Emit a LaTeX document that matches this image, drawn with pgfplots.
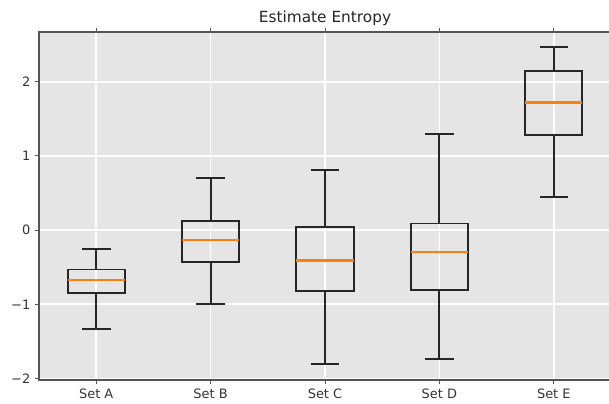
\documentclass[border=0pt]{standalone}
\usepackage{pgfplots}
\pgfplotsset{compat=1.18}
\usepgfplotslibrary{statistics}
\usepackage{fontspec}
\setmainfont{DejaVu Sans}
\definecolor{bg}{HTML}{E5E5E5}
\definecolor{mplorange}{HTML}{FF7F0E}
\definecolor{frame}{HTML}{555555}
\begin{document}
\begin{tikzpicture}
\useasboundingbox (0,0) rectangle (456.75pt,302.25pt);
\begin{axis}[
  anchor=south west, at={(29.25pt,17.25pt)},
  scale only axis, width=429pt, height=261pt,
  xmin=0.5, xmax=5.5, ymin=-2.02, ymax=2.67,
  axis background/.style={fill=bg},
  axis line style={frame, line width=0.8pt},
  xtick={1,2,3,4,5},
  xticklabels={Set A,Set B,Set C,Set D,Set E},
  ytick={-2,-1,0,1,2},
  yticklabels={−2,−1,0,1,2},
  tick align=outside, major tick length=3pt,
  tick style={frame, line width=0.7pt},
  grid=major, major grid style={white, line width=1.3pt},
  ticklabel style={font=\fontsize{9.7}{12}\selectfont, text=black!80},
  title={Estimate Entropy},
  title style={font=\fontsize{11.5}{13}\selectfont, text=black!85, yshift=-5pt},
  boxplot/draw direction=y,
  boxplot/box extend=0.5,
  boxplot/whisker extend=0.25,
  boxplot/every box/.style={draw=black!85, line width=1.4pt},
  boxplot/every whisker/.style={draw=black!85, line width=1.4pt},
  boxplot/every median/.style={draw=mplorange, line width=1.6pt},
  every axis plot/.append style={black!85, line width=1.4pt},
]
\addplot[black!85, line width=1.4pt, boxplot prepared={draw position=1, lower whisker=-1.33, lower quartile=-0.85, median=-0.67, upper quartile=-0.53, upper whisker=-0.26}] coordinates {};
\addplot[black!85, line width=1.4pt, boxplot prepared={draw position=2, lower whisker=-1.00, lower quartile=-0.43, median=-0.13, upper quartile=0.12, upper whisker=0.70}] coordinates {};
\addplot[black!85, line width=1.4pt, boxplot prepared={draw position=3, lower whisker=-1.80, lower quartile=-0.82, median=-0.41, upper quartile=0.04, upper whisker=0.81}] coordinates {};
\addplot[black!85, line width=1.4pt, boxplot prepared={draw position=4, lower whisker=-1.74, lower quartile=-0.81, median=-0.29, upper quartile=0.09, upper whisker=1.30}] coordinates {};
\addplot[black!85, line width=1.4pt, boxplot prepared={draw position=5, lower whisker=0.45, lower quartile=1.28, median=1.72, upper quartile=2.14, upper whisker=2.47}] coordinates {};
\end{axis}
\end{tikzpicture}
\end{document}
